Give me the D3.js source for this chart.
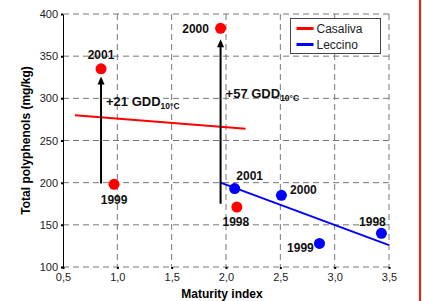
<!DOCTYPE html>
<html>
<head>
<meta charset="utf-8">
<script src="https://cdn.jsdelivr.net/npm/d3@7"></script>
<style>
  body { margin: 0; background: #fff; }
  svg { display: block; font-family: "Liberation Sans", Arial, sans-serif; }
</style>
</head>
<body>
<div id="chart"></div>
<script>
// data
var casaliva = [
  {year: "2001", x: 0.85, y: 335},
  {year: "1999", x: 0.97, y: 198},
  {year: "2000", x: 1.95, y: 383},
  {year: "1998", x: 2.10, y: 171}
];
var leccino = [
  {year: "2001", x: 2.08, y: 193},
  {year: "2000", x: 2.51, y: 185},
  {year: "1999", x: 2.86, y: 128},
  {year: "1998", x: 3.43, y: 140}
];
var casalivaTrend = [{x: 0.61, y: 280}, {x: 2.18, y: 264}];
var leccinoTrend = [{x: 1.95, y: 200}, {x: 3.5, y: 126}];
var arrows = [
  {x: 0.85, y0: 199, y1: 326, label: "+21 GDD", sub: "10°C"},
  {x: 1.95, y0: 175, y1: 370, label: "+57 GDD", sub: "10°C"}
];
var xTicks = [0.5, 1.0, 1.5, 2.0, 2.5, 3.0, 3.5];
var yTicks = [100, 150, 200, 250, 300, 350, 400];
var series = ["Casaliva", "Leccino"];
var colors = {Casaliva: "#ff0000", Leccino: "#0000ff"};

var W = 422, H = 301;
var margin = {top: 14, right: 33, bottom: 34, left: 63},
    width = 389 - margin.left,
    height = 267 - margin.top;

var svg = d3.select("#chart").append("svg")
    .attr("width", W)
    .attr("height", H);

var g = svg.append("g")
    .attr("transform", "translate(" + margin.left + "," + margin.top + ")");

var x = d3.scaleLinear().domain([0.5, 3.5]).range([0, width]);
var y = d3.scaleLinear().domain([100, 400]).range([height, 0]);

var fmt = function(d) { return d3.format(".1f")(d).replace(".", ","); };

// dashed grid
g.append("g").selectAll("line")
    .data(xTicks.slice(1))
  .enter().append("line")
    .attr("x1", function(d) { return x(d); })
    .attr("x2", function(d) { return x(d); })
    .attr("y1", 0).attr("y2", height)
    .attr("stroke", "#777")
    .attr("stroke-dasharray", "6,4");

g.append("g").selectAll("line")
    .data(yTicks)
  .enter().append("line")
    .attr("x1", 0).attr("x2", width)
    .attr("y1", function(d) { return y(d); })
    .attr("y2", function(d) { return y(d); })
    .attr("stroke", "#777")
    .attr("stroke-dasharray", "6,4");

// axes
var yAxis = g.append("g")
    .call(d3.axisLeft(y).tickValues(yTicks).tickSizeInner(2).tickSizeOuter(0).tickPadding(3));
yAxis.select(".domain").attr("stroke", "#000").attr("stroke-width", 1);
yAxis.selectAll(".tick line").attr("stroke-width", 2);
yAxis.selectAll("text").attr("font-size", 11).attr("fill", "#222")
    .attr("font-family", "Liberation Sans, Arial, sans-serif");

var xAxis = g.append("g")
    .attr("transform", "translate(0," + height + ")")
    .call(d3.axisBottom(x).tickValues(xTicks).tickFormat(fmt).tickSize(2).tickPadding(4));
xAxis.select(".domain").remove();
xAxis.selectAll(".tick line").attr("stroke-width", 2);
xAxis.selectAll("text").attr("font-size", 11).attr("fill", "#222")
    .attr("font-family", "Liberation Sans, Arial, sans-serif");

// axis titles
svg.append("text")
    .attr("transform", "translate(26," + (margin.top + height / 2) + ") rotate(-90)")
    .attr("text-anchor", "middle")
    .attr("dy", "0.35em")
    .attr("font-size", 12)
    .attr("font-weight", "bold")
    .text("Total polyphenols (mg/kg)");

svg.append("text")
    .attr("x", 222)
    .attr("y", 298)
    .attr("text-anchor", "middle")
    .attr("font-size", 12)
    .attr("font-weight", "bold")
    .text("Maturity index");

// trend lines
var line = d3.line()
    .x(function(d) { return x(d.x); })
    .y(function(d) { return y(d.y); });

g.append("path").datum(casalivaTrend)
    .attr("fill", "none").attr("stroke", colors.Casaliva).attr("stroke-width", 2)
    .attr("d", line);
g.append("path").datum(leccinoTrend)
    .attr("fill", "none").attr("stroke", colors.Leccino).attr("stroke-width", 2)
    .attr("d", line);

// arrows
var arr = g.append("g").selectAll("g")
    .data(arrows)
  .enter().append("g");

arr.append("line")
    .attr("x1", function(d) { return x(d.x); })
    .attr("x2", function(d) { return x(d.x); })
    .attr("y1", function(d) { return y(d.y0); })
    .attr("y2", function(d) { return y(d.y1) + 6; })
    .attr("stroke", "#000")
    .attr("stroke-width", 2);

arr.append("path")
    .attr("d", function(d) {
      var cx = x(d.x), ty = y(d.y1);
      return "M" + cx + "," + ty + "L" + (cx + 3.5) + "," + (ty + 8) + "L" + (cx - 3.5) + "," + (ty + 8) + "Z";
    })
    .attr("fill", "#000");

var lab = arr.append("text")
    .attr("x", function(d) { return x(d.x) + 5; })
    .attr("y", function(d, i) { return i === 0 ? 106 - margin.top : 98 - margin.top; })
    .attr("font-size", 13)
    .attr("font-weight", "bold")
    .attr("fill", "#111");
lab.append("tspan").text(function(d) { return d.label; });
lab.append("tspan")
    .attr("font-size", 8.5)
    .attr("dy", 3)
    .text(function(d) { return d.sub; });

// points
function drawPoints(data, color, offsets) {
  g.append("g").selectAll("circle")
      .data(data)
    .enter().append("circle")
      .attr("cx", function(d) { return x(d.x); })
      .attr("cy", function(d) { return y(d.y); })
      .attr("r", 5.5)
      .attr("fill", color);

  g.append("g").selectAll("text")
      .data(data)
    .enter().append("text")
      .attr("x", function(d, i) { return x(d.x) + offsets[i][0]; })
      .attr("y", function(d, i) { return y(d.y) + offsets[i][1]; })
      .attr("text-anchor", "middle")
      .attr("dy", "0.35em")
      .attr("font-size", 12)
      .attr("font-weight", "bold")
      .attr("fill", "#111")
      .text(function(d) { return d.year; });
}

drawPoints(casaliva, colors.Casaliva, [[0, -14], [0, 15], [-25, 0], [-1, 15]]);
drawPoints(leccino, colors.Leccino, [[15, -13], [22, -6], [-19, 4], [-9, -11]]);

// legend
var legend = svg.append("g").attr("transform", "translate(290.5,18.5)");
legend.append("rect")
    .attr("width", 90).attr("height", 35)
    .attr("fill", "#fff").attr("stroke", "#444");
var li = legend.selectAll("g.item")
    .data(series)
  .enter().append("g")
    .attr("class", "item")
    .attr("transform", function(d, i) { return "translate(0," + (10 + i * 16) + ")"; });
li.append("line")
    .attr("x1", 6).attr("x2", 23)
    .attr("stroke", function(d) { return colors[d]; })
    .attr("stroke-width", 3);
li.append("text")
    .attr("x", 26)
    .attr("dy", "0.35em")
    .attr("font-size", 12)
    .attr("fill", "#222")
    .text(function(d) { return d; });

// page border on the right
svg.append("line")
    .attr("x1", 420).attr("x2", 420)
    .attr("y1", 0).attr("y2", H)
    .attr("stroke", "#ff2000")
    .attr("stroke-width", 2);
</script>
</body>
</html>
